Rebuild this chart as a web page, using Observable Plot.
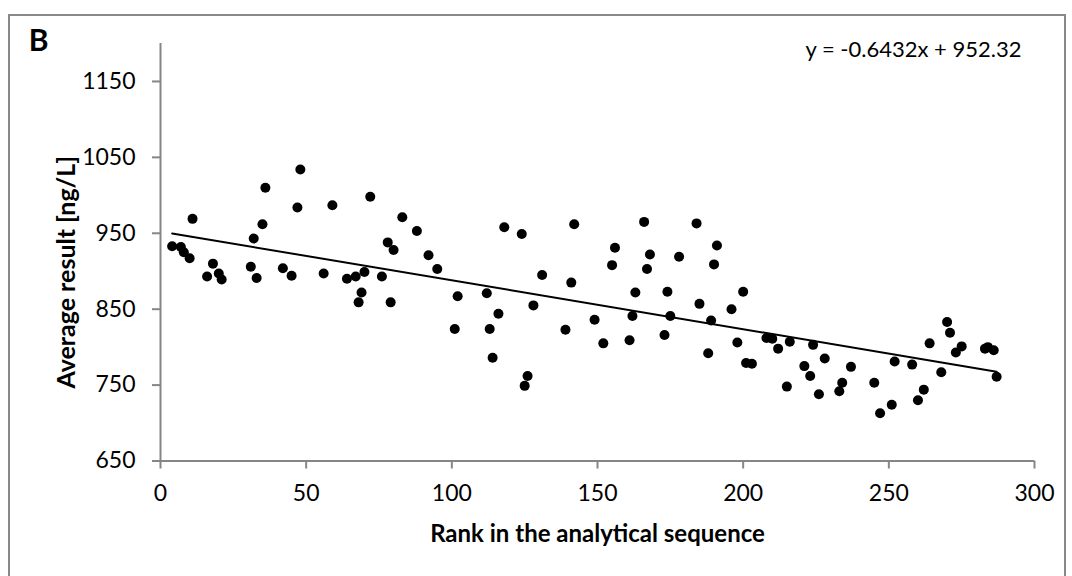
<!DOCTYPE html>
<html>
<head>
<meta charset="utf-8">
<script src="https://cdn.jsdelivr.net/npm/d3@7"></script>
<script src="https://cdn.jsdelivr.net/npm/@observablehq/plot@0.6"></script>
<style>
  html, body { margin: 0; padding: 0; background: white; overflow: hidden; }
  #wrap { position: relative; width: 1072px; height: 576px; }
  #chart { position: absolute; left: 0; top: 0; }
  #border { position: absolute; left: 8px; top: 14px; width: 1054px; height: 600px;
            border: 2px solid #898989; pointer-events: none; z-index: 2; }
</style>
</head>
<body>
<div id="wrap"><div id="chart"></div><div id="border"></div></div>
<script>
// Rank in the analytical sequence
const rank = [4,7,8,10,11,16,18,20,21,31,32,33,35,36,42,45,47,48,56,59,64,67,68,69,70,72,76,78,79,80,83,88,92,95,101,102,112,113,114,116,118,124,125,126,128,131,139,141,142,149,152,155,156,161,162,163,166,167,168,173,174,175,178,184,185,188,189,190,191,196,198,200,201,203,208,210,212,215,216,221,223,224,226,228,233,234,237,245,247,251,252,258,260,262,264,268,270,271,273,275,283,284,286,287];
// Average result [ng/L]
const result = [933,932,925,917,969,893,910,897,889,906,943,891,962,1010,904,894,984,1034,897,987,890,893,859,872,899,998,893,938,859,928,971,953,921,903,824,867,871,824,786,844,958,949,749,762,855,895,823,885,962,836,805,908,931,809,841,872,965,903,922,816,873,841,919,963,857,792,835,909,934,850,806,873,779,778,812,811,798,748,807,775,762,803,738,785,742,753,774,753,713,724,781,777,730,744,805,767,833,819,793,801,798,800,796,761];

const xTicks = [0, 50, 100, 150, 200, 250, 300];
const yTicks = [650, 750, 850, 950, 1050, 1150];
const trendSlope = -0.6432;
const trendIntercept = 952.32;

const panelLabel = "B";
const equationLabel = "y = -0.6432x + 952.32";
const xLabel = "Rank in the analytical sequence";
const yLabel = "Average result [ng/L]";

const points = rank.map((r, i) => ({rank: r, result: result[i]}));
const xMin = d3.min(rank), xMax = d3.max(rank);
const trend = [xMin, xMax].map(x => ({rank: x, result: trendSlope * x + trendIntercept}));

const gray = "#868686";
const font = "Lato, 'Open Sans', sans-serif";

const chart = Plot.plot({
  width: 1072,
  height: 576,
  marginLeft: 160,
  marginRight: 38,
  marginTop: 43,
  marginBottom: 115.5,
  style: {fontFamily: font, fontSize: "23px", color: "black", background: "transparent"},
  x: {domain: [0, 300]},
  y: {domain: [650, 1200]},
  marks: [
    Plot.ruleY([650], {stroke: gray, strokeWidth: 2}),
    Plot.ruleX([0], {stroke: gray, strokeWidth: 2}),
    Plot.axisX({ticks: xTicks, tickSize: 8, tickPadding: 16, stroke: gray, strokeWidth: 2, fill: "black", fontSize: 23, label: null, tickFormat: d => String(d)}),
    Plot.axisY({ticks: yTicks, tickSize: 8, tickPadding: 17, stroke: gray, strokeWidth: 2, fill: "black", fontSize: 23, label: null, tickFormat: d => String(d)}),
    Plot.line(trend, {x: "rank", y: "result", stroke: "black", strokeWidth: 2}),
    Plot.dot(points, {x: "rank", y: "result", r: 5, fill: "black", stroke: "none"}),
    Plot.text([xLabel], {frameAnchor: "bottom", textAnchor: "middle", lineAnchor: "middle", dy: 73, text: d => d, fontWeight: "bold", fontSize: 24, fill: "black"}),
    Plot.text([yLabel], {frameAnchor: "left", textAnchor: "middle", lineAnchor: "middle", dx: -94, dy: 20, rotate: -90, text: d => d, fontWeight: "bold", fontSize: 25, fill: "black"}),
    Plot.text([equationLabel], {frameAnchor: "top-right", textAnchor: "end", lineAnchor: "middle", dx: -13, dy: 6, text: d => d, fontSize: 22, fill: "black"}),
    Plot.text([panelLabel], {frameAnchor: "top-left", textAnchor: "middle", lineAnchor: "middle", dx: -122, dy: -2, text: d => d, fontWeight: "bold", fontSize: 30, fill: "black"})
  ]
});
document.getElementById("chart").appendChild(chart);
</script>
</body>
</html>
